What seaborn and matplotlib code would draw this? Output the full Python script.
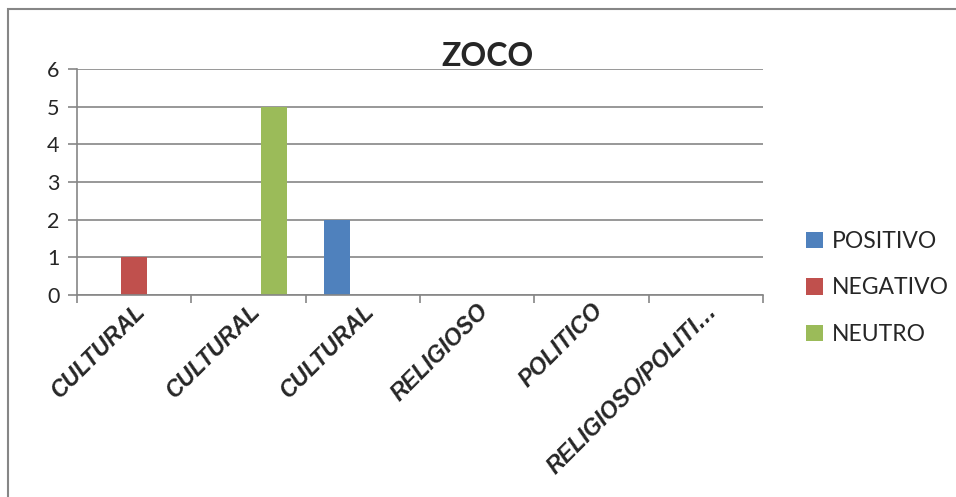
import matplotlib.pyplot as plt
import pandas as pd
import seaborn as sns
from matplotlib.patches import Rectangle

sns.set_theme(style="white")
plt.rcParams["font.family"] = ["Lato", "DejaVu Sans"]

# ── Data ─────────────────────────────────────────────────────────────────────
categories = ["CULTURAL", "CULTURAL", "CULTURAL", "RELIGIOSO", "POLITICO", "RELIGIOSO/POLITI…"]
series = ["POSITIVO", "NEGATIVO", "NEUTRO"]
positivo = [0, 0, 2, 0, 0, 0]
negativo = [1, 0, 0, 0, 0, 0]
neutro = [0, 5, 0, 0, 0, 0]
colors = ["#4F81BD", "#C0504D", "#9BBB59"]
GRID = "#868686"

# unique keys so the repeated "CULTURAL" labels stay separate categories
keys = [f"c{i}" for i in range(len(categories))]
df = pd.DataFrame({
    "key": keys * 3,
    "serie": sum([[s] * len(keys) for s in series], []),
    "valor": positivo + negativo + neutro,
})

fig = plt.figure(figsize=(9.56, 4.97), dpi=100)
ax = fig.add_axes([77 / 956, 1 - 295 / 497, (763 - 77) / 956, (295 - 69) / 497])

sns.barplot(data=df, x="key", y="valor", hue="serie", order=keys, hue_order=series,
            palette=colors, width=0.68, saturation=1, linewidth=0, ax=ax, legend=True)

ax.set_ylim(0, 6)
ax.set_xlim(-0.5, len(keys) - 0.5)
ax.set_yticks(range(0, 7))
ax.yaxis.grid(True, color=GRID, linewidth=1.2)
ax.set_axisbelow(True)
ax.set_xlabel("")
ax.set_ylabel("")

for side in ["top", "right"]:
    ax.spines[side].set_visible(False)
for side in ["left", "bottom"]:
    ax.spines[side].set_color(GRID)
    ax.spines[side].set_linewidth(1.2)

ax.tick_params(axis="y", left=True, length=6.5, width=1.2, color=GRID, pad=6, labelsize=15.5)
ax.set_xticks([i - 0.5 for i in range(len(keys) + 1)], minor=True)
ax.tick_params(axis="x", which="minor", bottom=True, length=6, width=1.2, color=GRID)
ax.tick_params(axis="x", which="major", bottom=False, length=0, pad=3)
ax.set_xticklabels(categories, rotation=45, ha="right", rotation_mode="anchor",
                   fontsize=16.5, fontweight="bold", fontstyle="italic",
                   family=["Liberation Sans", "DejaVu Sans"])

ax.set_title("ZOCO", fontsize=23, fontweight="bold", x=(488 - 77) / (763 - 77), y=1.0, pad=2)

ax.legend(loc="center left", bbox_to_anchor=(795 / 956, 1 - 288 / 497), bbox_transform=fig.transFigure,
          frameon=False, fontsize=16.5, handlelength=0.7, handleheight=0.7, handletextpad=0.4,
          labelspacing=1.1, borderpad=0)

# chart area border (cut off at right and bottom, as in the source image)
fig.patches.append(Rectangle((8 / 956, -0.1), 1.2, 1 - 9 / 497 + 0.1, transform=fig.transFigure,
                             fill=False, edgecolor=GRID, linewidth=1.5))

fig.savefig("out.png", dpi=100)
